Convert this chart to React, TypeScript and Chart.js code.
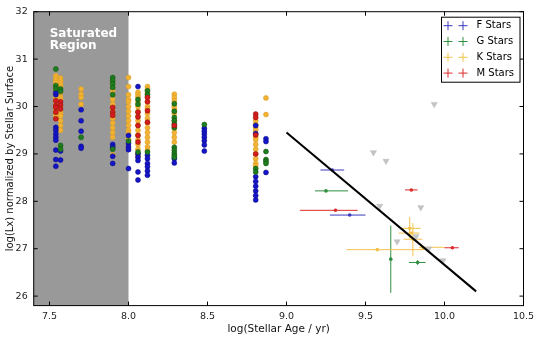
import React, { useEffect, useRef } from 'react';
import { Chart, registerables } from 'chart.js';
Chart.register(...registerables);

// ---- axes ----
const xTicks = [7.5, 8.0, 8.5, 9.0, 9.5, 10.0, 10.5];
const yTicks = [26, 27, 28, 29, 30, 31, 32];
const xRange = [7.4, 10.5];
const yRange = [25.8, 32];
const saturatedRange = [7.4, 8.0];

// ---- cluster columns (log age) ----
const clusterAges = [7.54, 7.57, 7.70, 7.90, 8.00, 8.06, 8.12, 8.29, 8.48, 8.805, 8.87];

const fStarLx = [
  [30.25, 30.30, 29.56, 29.50, 29.42, 29.35, 29.29, 29.08, 28.88, 28.74],
  [29.06, 28.87],
  [29.93, 29.70, 29.48, 29.16, 29.12],
  [29.20, 29.14, 28.95, 28.80],
  [29.39, 29.22, 29.15, 29.09, 28.69],
  [30.42, 29.00, 28.93, 28.86, 28.62, 28.45],
  [28.97, 28.90, 28.80, 28.73, 28.64, 28.55],
  [28.90, 28.81],
  [29.54, 29.48, 29.42, 29.35, 29.28, 29.19, 29.06],
  [29.60, 29.43, 28.52, 28.42, 28.32, 28.22, 28.12, 28.03],
  [29.32, 29.26, 28.61],
];
const gStarLx = [
  [30.79, 30.44, 30.38],
  [30.37, 30.32, 29.18, 29.10],
  [29.35],
  [30.61, 30.55, 30.48, 30.40, 30.25, 29.10],
  [29.27],
  [30.15, 30.05, 29.04],
  [30.33, 30.25, 29.04],
  [30.06, 29.90, 29.77, 29.70, 29.63, 29.55, 29.14, 29.08, 29.02, 28.97, 28.93],
  [29.62],
  [28.69, 28.62],
  [29.05, 28.88, 28.84, 28.80],
];
const kStarLx = [
  [30.65, 30.60, 30.55, 30.50, 30.45, 30.40, 30.35, 30.30, 30.20, 30.15, 30.10, 30.05, 30.00, 29.95, 29.90, 29.85, 29.80],
  [30.60, 30.55, 30.50, 30.45, 30.40, 30.30, 30.20, 30.15, 30.00, 29.90, 29.85, 29.80, 29.70, 29.60, 29.50],
  [30.37, 30.26, 30.19, 30.05],
  [30.55, 30.45, 30.35, 30.25, 30.15, 30.05, 29.95, 29.85, 29.75, 29.65, 29.55, 29.45, 29.35, 28.98],
  [30.61, 30.42, 30.25, 30.15, 30.10, 30.00, 29.90, 29.80, 29.70, 29.60, 29.50, 29.45, 29.30],
  [30.30, 30.25, 30.20, 30.10, 30.00, 29.90, 29.80, 29.70, 29.60, 29.50, 29.40, 29.30, 29.20, 29.10, 29.00, 28.95],
  [30.42, 30.35, 30.28, 30.20, 30.10, 30.00, 29.95, 29.85, 29.75, 29.65, 29.55, 29.45, 29.35, 29.25, 29.15, 29.08],
  [30.26, 30.19, 30.12, 30.00, 29.95, 29.85, 29.70, 29.55, 29.45, 29.35, 29.25],
  [],
  [29.70, 29.62, 29.55, 29.50, 29.35, 29.30, 29.20, 29.10, 29.00, 28.90, 28.80, 28.75],
  [30.18, 29.83],
];
const mStarLx = [
  [30.12, 30.02, 29.98, 29.88, 29.74],
  [30.10, 30.03, 29.95],
  [],
  [29.98, 29.88, 29.81],
  [],
  [29.88, 29.78, 29.60, 29.39, 29.25],
  [30.19, 30.10, 29.91, 29.67],
  [29.60],
  [],
  [29.84, 29.77, 29.40, 29.00],
  [],
];

// ---- individual field stars with error bars ----
const fFieldAge = [9.29, 9.40];
const fFieldLx = [28.66, 27.71];
const fFieldAgeLo = [9.215, 9.275];
const fFieldAgeHi = [9.365, 9.50];
const fFieldLxLo = [28.66, 27.71];
const fFieldLxHi = [28.66, 27.71];

const gFieldAge = [9.25, 9.66, 9.83];
const gFieldLx = [28.22, 26.78, 26.71];
const gFieldAgeLo = [9.18, 9.66, 9.775];
const gFieldAgeHi = [9.39, 9.66, 9.88];
const gFieldLxLo = [28.22, 26.07, 26.66];
const gFieldLxHi = [28.22, 27.49, 26.76];

const kFieldAge = [9.575, 9.78, 9.79, 9.80, 9.86];
const kFieldLx = [26.98, 27.43, 27.33, 27.20, 27.03];
const kFieldAgeLo = [9.38, 9.72, 9.71, 9.74, 9.84];
const kFieldAgeHi = [9.87, 9.85, 9.84, 9.86, 10.0];
const kFieldLxLo = [26.98, 27.22, 27.33, 26.84, 27.03];
const kFieldLxHi = [26.98, 27.67, 27.33, 27.54, 27.03];

const mFieldAge = [9.31, 9.79, 10.05];
const mFieldLx = [27.81, 28.24, 27.02];
const mFieldAgeLo = [9.085, 9.75, 10.0];
const mFieldAgeHi = [9.45, 9.83, 10.09];
const mFieldLxLo = [27.81, 28.24, 27.02];
const mFieldLxHi = [27.81, 28.24, 27.02];

// ---- upper limits (gray down triangles) ----
const upperAge = [9.935, 9.55, 9.63, 9.59, 9.85, 9.70, 9.82, 9.90, 9.99];
const upperLx = [30.05, 29.03, 28.85, 27.90, 27.87, 27.15, 27.26, 27.0, 26.75];

// ---- fit line ----
const fitAge = [9.0, 10.2];
const fitLx = [29.45, 26.1];

const seriesLabels = ['F Stars', 'G Stars', 'K Stars', 'M Stars'];
const seriesColors = ['#1515c8', '#1e7d1e', '#f2b233', '#d41c1c'];
const seriesEdges = ['#0a0a80', '#0f4f0f', '#d69a25', '#8a1010'];
const barColors = ['#3a3ac0', '#2f8f3f', '#f2c24a', '#dd2a2a'];

const FONT = '"DejaVu Sans", "Liberation Sans", sans-serif';

function columnPoints(lx: number[][]) {
  const pts: { x: number; y: number }[] = [];
  lx.forEach((col, i) => col.forEach((v) => pts.push({ x: clusterAges[i], y: v })));
  return pts;
}
function zipPts(xs: number[], ys: number[]) {
  return xs.map((x, i) => ({ x, y: ys[i] }));
}

const errGroups = [
  { ax: fFieldAgeLo, bx: fFieldAgeHi, x: fFieldAge, y: fFieldLx, ay: fFieldLxLo, by: fFieldLxHi },
  { ax: gFieldAgeLo, bx: gFieldAgeHi, x: gFieldAge, y: gFieldLx, ay: gFieldLxLo, by: gFieldLxHi },
  { ax: kFieldAgeLo, bx: kFieldAgeHi, x: kFieldAge, y: kFieldLx, ay: kFieldLxLo, by: kFieldLxHi },
  { ax: mFieldAgeLo, bx: mFieldAgeHi, x: mFieldAge, y: mFieldLx, ay: mFieldLxLo, by: mFieldLxHi },
];

const decorPlugin = {
  id: 'decor',
  beforeDatasetsDraw(chart: any) {
    const { ctx, chartArea: a, scales } = chart;
    const xs = scales.x, ys = scales.y;
    ctx.save();
    const x0 = xs.getPixelForValue(saturatedRange[0]);
    const x1 = xs.getPixelForValue(saturatedRange[1]);
    ctx.fillStyle = '#999999';
    ctx.fillRect(x0, a.top, x1 - x0, a.bottom - a.top);
    ctx.fillStyle = '#ffffff';
    ctx.font = 'bold 12px ' + FONT;
    ctx.textBaseline = 'alphabetic';
    ctx.textAlign = 'left';
    ctx.fillText('Saturated', a.left + 16, a.top + 25);
    ctx.fillText('Region', a.left + 16, a.top + 37);
    // error bars
    ctx.lineWidth = 1;
    errGroups.forEach((g, gi) => {
      ctx.strokeStyle = barColors[gi];
      g.x.forEach((_, i) => {
        const py = ys.getPixelForValue(g.y[i]);
        const px = xs.getPixelForValue(g.x[i]);
        if (g.ax[i] !== g.bx[i]) {
          ctx.beginPath();
          ctx.moveTo(xs.getPixelForValue(g.ax[i]), py);
          ctx.lineTo(xs.getPixelForValue(g.bx[i]), py);
          ctx.stroke();
        }
        if (g.ay[i] !== g.by[i]) {
          ctx.beginPath();
          ctx.moveTo(px, ys.getPixelForValue(g.ay[i]));
          ctx.lineTo(px, ys.getPixelForValue(g.by[i]));
          ctx.stroke();
        }
      });
    });
    ctx.restore();
  },
  afterDraw(chart: any) {
    const { ctx, chartArea: a, scales } = chart;
    const xs = scales.x, ys = scales.y;
    ctx.save();
    ctx.strokeStyle = '#000';
    ctx.lineWidth = 1;
    ctx.strokeRect(a.left, a.top, a.right - a.left, a.bottom - a.top);
    ctx.beginPath();
    xTicks.forEach((v) => {
      const px = xs.getPixelForValue(v);
      ctx.moveTo(px, a.bottom); ctx.lineTo(px, a.bottom - 4);
      ctx.moveTo(px, a.top); ctx.lineTo(px, a.top + 4);
    });
    yTicks.forEach((v) => {
      const py = ys.getPixelForValue(v);
      ctx.moveTo(a.left, py); ctx.lineTo(a.left + 4, py);
      ctx.moveTo(a.right, py); ctx.lineTo(a.right - 4, py);
    });
    ctx.stroke();
    // legend
    const lx = a.right - 82, ly = a.top + 5.5, lw = 78.5, lh = 65;
    ctx.fillStyle = '#fff';
    ctx.fillRect(lx, ly, lw, lh);
    ctx.strokeStyle = '#000';
    ctx.strokeRect(lx, ly, lw, lh);
    ctx.font = '10px ' + FONT;
    ctx.textBaseline = 'middle';
    ctx.textAlign = 'left';
    seriesLabels.forEach((lab, i) => {
      const cy = ly + 8.5 + i * 15.8;
      ctx.strokeStyle = barColors[i];
      ctx.lineWidth = 1;
      [lx + 6.5, lx + 21.5].forEach((cx) => {
        ctx.beginPath();
        ctx.moveTo(cx - 4.5, cy); ctx.lineTo(cx + 4.5, cy);
        ctx.moveTo(cx, cy - 4.5); ctx.lineTo(cx, cy + 4.5);
        ctx.stroke();
      });
      ctx.fillStyle = '#000';
      ctx.fillText(lab, lx + 35, cy);
    });
    ctx.restore();
  },
};

export default function App() {
  const ref = useRef<HTMLCanvasElement>(null);
  useEffect(() => {
    if (!ref.current) return;
    const colData = [fStarLx, gStarLx, kStarLx, mStarLx];
    const fieldX = [fFieldAge, gFieldAge, kFieldAge, mFieldAge];
    const fieldY = [fFieldLx, gFieldLx, kFieldLx, mFieldLx];
    const orders = [3, 2, 4, 1];
    const datasets: any[] = [];
    colData.forEach((d, i) => {
      datasets.push({
        type: 'scatter',
        label: seriesLabels[i],
        data: columnPoints(d),
        backgroundColor: seriesColors[i],
        borderColor: seriesEdges[i],
        borderWidth: 0.5,
        pointRadius: 2.5,
        order: orders[i],
      });
    });
    datasets.push({
      type: 'scatter',
      label: 'upper',
      data: zipPts(upperAge, upperLx),
      pointStyle: 'triangle',
      rotation: 180,
      pointRadius: 3.5,
      backgroundColor: '#c4c4c8',
      borderColor: '#b8b8bc',
      borderWidth: 0.5,
      order: 5,
    });
    fieldX.forEach((xv, i) => {
      datasets.push({
        type: 'scatter',
        label: seriesLabels[i] + ' field',
        data: zipPts(xv, fieldY[i]),
        backgroundColor: barColors[i],
        borderColor: barColors[i],
        borderWidth: 0,
        pointRadius: 1.8,
        order: 0,
      });
    });
    datasets.push({
      type: 'line',
      label: 'fit',
      data: zipPts(fitAge, fitLx),
      borderColor: '#000',
      borderWidth: 2,
      pointRadius: 0,
      fill: false,
      order: -1,
    });

    const chart = new Chart(ref.current, {
      type: 'scatter',
      data: { datasets },
      options: {
        animation: false,
        responsive: false,
        layout: { padding: { top: 10.5, right: 16.5, left: 0, bottom: 0 } },
        plugins: { legend: { display: false }, tooltip: { enabled: false }, title: { display: false } },
        scales: {
          x: {
            type: 'linear',
            min: xRange[0],
            max: xRange[1],
            grid: { display: false, drawTicks: false },
            border: { display: false },
            afterBuildTicks: (s: any) => { s.ticks = xTicks.map((v) => ({ value: v })); },
            afterFit: (s: any) => { s.height = 31.4; },
            ticks: {
              padding: 5,
              color: '#222',
              font: { family: FONT, size: 9.5 },
              callback: (v: any) => Number(v).toFixed(1),
            },
            title: {
              display: true,
              text: 'log(Stellar Age / yr)',
              color: '#111',
              font: { family: FONT, size: 10.5 },
              padding: { top: 0, bottom: 1.5 },
            },
          },
          y: {
            type: 'linear',
            min: yRange[0],
            max: yRange[1],
            grid: { display: false, drawTicks: false },
            border: { display: false },
            afterBuildTicks: (s: any) => { s.ticks = yTicks.map((v) => ({ value: v })); },
            afterFit: (s: any) => { s.width = 33.7; },
            ticks: {
              padding: 6,
              color: '#222',
              font: { family: FONT, size: 9.5 },
              callback: (v: any) => String(v),
            },
            title: {
              display: true,
              text: 'log(Lx) normalized by Stellar Surface',
              color: '#111',
              font: { family: FONT, size: 10 },
              padding: { top: 4, bottom: 0 },
            },
          },
        },
      },
      plugins: [decorPlugin],
    });
    return () => chart.destroy();
  }, []);
  return (
    <div style={{ position: 'absolute', left: 0, top: 0, width: 540, height: 337, background: '#fff' }}>
      <canvas ref={ref} width={540} height={337} />
    </div>
  );
}
